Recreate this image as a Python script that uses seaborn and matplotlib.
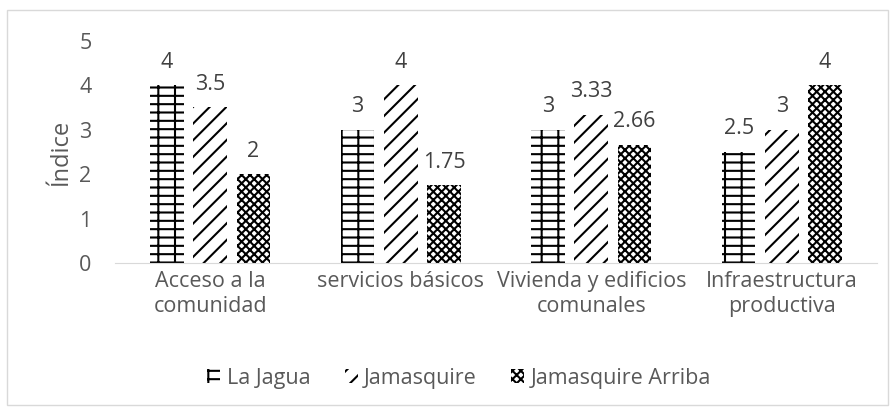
import pandas as pd
import seaborn as sns
import matplotlib.pyplot as plt
from matplotlib.patches import Rectangle

categories = ["Acceso a la\ncomunidad", "servicios básicos", "Vivienda y edificios\ncomunales", "Infraestructura\nproductiva"]
series = ["La Jagua", "Jamasquire", "Jamasquire Arriba"]
la_jagua = [4, 3, 3, 2.5]
jamasquire = [3.5, 4, 3.33, 3]
jamasquire_arriba = [2, 1.75, 2.66, 4]
labels = [["4", "3", "3", "2.5"], ["3.5", "4", "3.33", "3"], ["2", "1.75", "2.66", "4"]]

df = pd.DataFrame({
    "Categoria": categories * 3,
    "Serie": [s for s in series for _ in categories],
    "Valor": la_jagua + jamasquire + jamasquire_arriba,
})

sns.set_style("white")
plt.rcParams["font.family"] = ["Open Sans", "DejaVu Sans"]
plt.rcParams["hatch.color"] = "black"
plt.rcParams["hatch.linewidth"] = 1.5
text_color = "#595959"
fs = 15.5

fig = plt.figure(figsize=(8.95, 4.08), dpi=100)
ax = fig.add_axes([0.1285, 0.3554, 0.8514, 0.5453])
sns.barplot(data=df, x="Categoria", y="Valor", hue="Serie", order=categories,
            hue_order=series, width=0.68, gap=0.22, ax=ax, legend=False)

hatches = ["+-", "//", "xxxx"]
for cont, h, lab in zip(ax.containers, hatches, labels):
    for bar in cont:
        bar.set_facecolor("white")
        bar.set_edgecolor("black")
        bar.set_linewidth(0)
        bar.set_hatch(h)
    ax.bar_label(cont, labels=lab, padding=9, fontsize=fs, color="#404040")

ax.set_ylim(0, 5)
ax.set_yticks(range(0, 6))
ax.set_xlabel("")
ax.set_ylabel("Índice", fontsize=17, color=text_color, labelpad=4)
ax.tick_params(axis="both", labelsize=fs, colors=text_color, length=0)
ax.tick_params(axis="y", pad=17)
ax.tick_params(axis="x", pad=6)
for s in ["top", "right", "left"]:
    ax.spines[s].set_visible(False)
ax.spines["bottom"].set_color("#d9d9d9")

handles = [Rectangle((0, 0), 1, 1, facecolor="white", edgecolor="black", linewidth=0, hatch=h) for h in hatches]
fig.legend(handles, series, loc="center", bbox_to_anchor=(0.513, 0.073), ncol=3, frameon=False,
           fontsize=fs, labelcolor=text_color, handlelength=0.6, handleheight=0.6,
           handletextpad=0.3, columnspacing=1.6)

fig.patches.append(Rectangle((0.008, 0.008), 0.984, 0.967, transform=fig.transFigure,
                             fill=False, edgecolor="#d9d9d9", linewidth=1))

fig.savefig("out.png", dpi=100)
